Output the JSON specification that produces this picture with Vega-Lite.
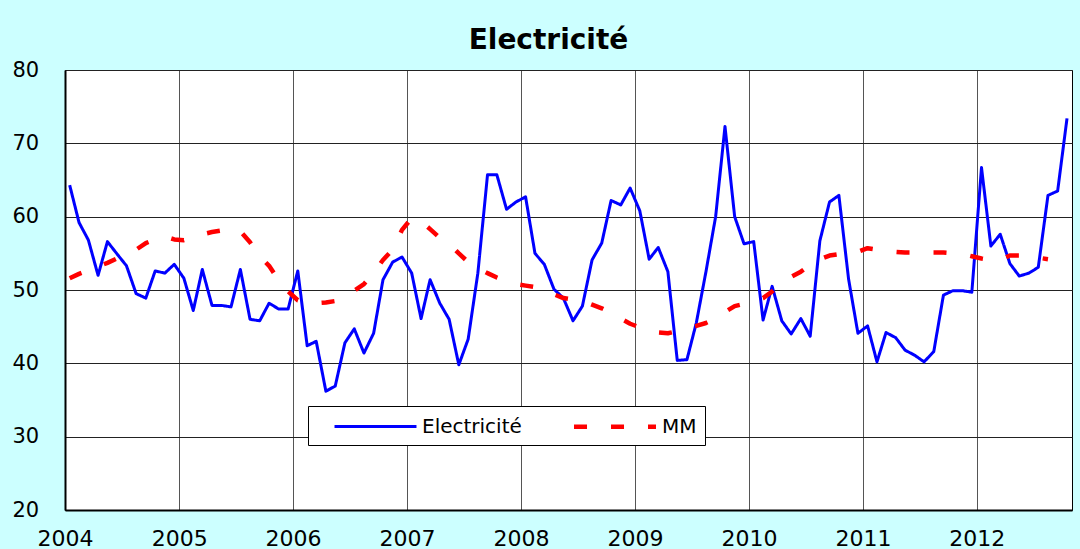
{
  "$schema": "https://vega.github.io/schema/vega-lite/v6.json",
  "width": 1007,
  "height": 440,
  "autosize": {"type": "none"},
  "padding": {"left": 65, "top": 70, "right": 8, "bottom": 39},
  "background": "#CCFFFF",
  "title": {"text": "Electricité", "font": "DejaVu Sans", "fontSize": 28, "fontWeight": "bold", "color": "#000000", "anchor": "middle", "frame": "group", "baseline": "alphabetic", "offset": -18, "dx": -20},
  "config": {
    "view": {"fill": "#FFFFFF", "stroke": "#000000", "strokeWidth": 1},
    "legend": {"fillColor": "#FFFFFF", "strokeColor": "#000000", "strokeWidth": 1, "padding": 8, "symbolType": "M-4,0H4", "symbolSize": 420, "symbolOffset": 47.5, "labelFont": "DejaVu Sans", "labelFontSize": 20, "labelColor": "#000000", "labelOffset": 34.5, "columnPadding": 33}
  },
  "data": {"values": [
    {"d": "2004-01-16", "Electricité": 64.3, "MM": 51.6},
    {"d": "2004-02-15", "Electricité": 59.2, "MM": 52.2},
    {"d": "2004-03-16", "Electricité": 56.8, "MM": 52.7},
    {"d": "2004-04-16", "Electricité": 52.0, "MM": 53.2},
    {"d": "2004-05-16", "Electricité": 56.6, "MM": 53.7},
    {"d": "2004-06-16", "Electricité": 54.9, "MM": 54.3},
    {"d": "2004-07-16", "Electricité": 53.3, "MM": 54.9},
    {"d": "2004-08-16", "Electricité": 49.5, "MM": 55.5},
    {"d": "2004-09-16", "Electricité": 48.9, "MM": 56.4},
    {"d": "2004-10-16", "Electricité": 52.6, "MM": 56.9},
    {"d": "2004-11-16", "Electricité": 52.3, "MM": 57.3},
    {"d": "2004-12-16", "Electricité": 53.5, "MM": 56.9},
    {"d": "2005-01-16", "Electricité": 51.6, "MM": 56.8},
    {"d": "2005-02-15", "Electricité": 47.2, "MM": 57.2},
    {"d": "2005-03-16", "Electricité": 52.8, "MM": 57.6},
    {"d": "2005-04-16", "Electricité": 47.9, "MM": 57.9},
    {"d": "2005-05-16", "Electricité": 47.9, "MM": 58.1},
    {"d": "2005-06-16", "Electricité": 47.7, "MM": 58.2},
    {"d": "2005-07-16", "Electricité": 52.8, "MM": 58.0},
    {"d": "2005-08-16", "Electricité": 46.0, "MM": 56.5},
    {"d": "2005-09-16", "Electricité": 45.8, "MM": 54.6},
    {"d": "2005-10-16", "Electricité": 48.2, "MM": 53.3},
    {"d": "2005-11-16", "Electricité": 47.4, "MM": 51.3},
    {"d": "2005-12-16", "Electricité": 47.4, "MM": 49.8},
    {"d": "2006-01-16", "Electricité": 52.6, "MM": 48.6},
    {"d": "2006-02-15", "Electricité": 42.4, "MM": 48.2},
    {"d": "2006-03-16", "Electricité": 43.0, "MM": 48.2},
    {"d": "2006-04-16", "Electricité": 36.2, "MM": 48.3},
    {"d": "2006-05-16", "Electricité": 36.9, "MM": 48.5},
    {"d": "2006-06-16", "Electricité": 42.8, "MM": 49.0},
    {"d": "2006-07-16", "Electricité": 44.7, "MM": 49.9},
    {"d": "2006-08-16", "Electricité": 41.4, "MM": 50.8},
    {"d": "2006-09-16", "Electricité": 44.1, "MM": 52.3},
    {"d": "2006-10-16", "Electricité": 51.4, "MM": 54.1},
    {"d": "2006-11-16", "Electricité": 53.8, "MM": 55.5},
    {"d": "2006-12-16", "Electricité": 54.5, "MM": 58.2},
    {"d": "2007-01-16", "Electricité": 52.3, "MM": 59.8},
    {"d": "2007-02-15", "Electricité": 46.1, "MM": 59.4},
    {"d": "2007-03-16", "Electricité": 51.4, "MM": 58.3},
    {"d": "2007-04-16", "Electricité": 48.2, "MM": 57.1},
    {"d": "2007-05-16", "Electricité": 46.0, "MM": 56.3},
    {"d": "2007-06-16", "Electricité": 39.8, "MM": 55.0},
    {"d": "2007-07-16", "Electricité": 43.3, "MM": 53.8},
    {"d": "2007-08-16", "Electricité": 52.3, "MM": 53.0},
    {"d": "2007-09-16", "Electricité": 65.7, "MM": 52.3},
    {"d": "2007-10-16", "Electricité": 65.7, "MM": 51.7},
    {"d": "2007-11-16", "Electricité": 61.0, "MM": 51.2},
    {"d": "2007-12-16", "Electricité": 62.0, "MM": 50.8},
    {"d": "2008-01-16", "Electricité": 62.7, "MM": 50.6},
    {"d": "2008-02-15", "Electricité": 55.0, "MM": 50.4},
    {"d": "2008-03-16", "Electricité": 53.5, "MM": 50.0},
    {"d": "2008-04-16", "Electricité": 50.1, "MM": 49.4},
    {"d": "2008-05-16", "Electricité": 48.9, "MM": 48.9},
    {"d": "2008-06-16", "Electricité": 45.8, "MM": 48.7},
    {"d": "2008-07-16", "Electricité": 47.8, "MM": 48.5},
    {"d": "2008-08-16", "Electricité": 54.1, "MM": 48.0},
    {"d": "2008-09-16", "Electricité": 56.4, "MM": 47.5},
    {"d": "2008-10-16", "Electricité": 62.2, "MM": 46.9},
    {"d": "2008-11-16", "Electricité": 61.6, "MM": 46.1},
    {"d": "2008-12-16", "Electricité": 63.9, "MM": 45.4},
    {"d": "2009-01-16", "Electricité": 60.8, "MM": 44.9},
    {"d": "2009-02-15", "Electricité": 54.2, "MM": 44.4},
    {"d": "2009-03-16", "Electricité": 55.8, "MM": 44.2},
    {"d": "2009-04-16", "Electricité": 52.5, "MM": 44.1},
    {"d": "2009-05-16", "Electricité": 40.4, "MM": 44.4},
    {"d": "2009-06-16", "Electricité": 40.5, "MM": 44.8},
    {"d": "2009-07-16", "Electricité": 45.5, "MM": 45.1},
    {"d": "2009-08-16", "Electricité": 52.5, "MM": 45.5},
    {"d": "2009-09-16", "Electricité": 60.0, "MM": 46.1},
    {"d": "2009-10-16", "Electricité": 72.3, "MM": 47.0},
    {"d": "2009-11-16", "Electricité": 60.0, "MM": 47.8},
    {"d": "2009-12-16", "Electricité": 56.3, "MM": 48.1},
    {"d": "2010-01-16", "Electricité": 56.6, "MM": 48.5},
    {"d": "2010-02-15", "Electricité": 45.9, "MM": 48.9},
    {"d": "2010-03-16", "Electricité": 50.5, "MM": 49.8},
    {"d": "2010-04-16", "Electricité": 45.8, "MM": 51.1},
    {"d": "2010-05-16", "Electricité": 44.0, "MM": 51.8},
    {"d": "2010-06-16", "Electricité": 46.1, "MM": 52.5},
    {"d": "2010-07-16", "Electricité": 43.7, "MM": 53.4},
    {"d": "2010-08-16", "Electricité": 56.7, "MM": 54.2},
    {"d": "2010-09-16", "Electricité": 62.0, "MM": 54.7},
    {"d": "2010-10-16", "Electricité": 62.9, "MM": 54.9},
    {"d": "2010-11-16", "Electricité": 51.5, "MM": 55.0},
    {"d": "2010-12-16", "Electricité": 44.1, "MM": 55.2},
    {"d": "2011-01-16", "Electricité": 45.1, "MM": 55.7},
    {"d": "2011-02-15", "Electricité": 40.2, "MM": 55.5},
    {"d": "2011-03-16", "Electricité": 44.2, "MM": 55.3},
    {"d": "2011-04-16", "Electricité": 43.5, "MM": 55.2},
    {"d": "2011-05-16", "Electricité": 41.8, "MM": 55.1},
    {"d": "2011-06-16", "Electricité": 41.1, "MM": 55.1},
    {"d": "2011-07-16", "Electricité": 40.2, "MM": 55.1},
    {"d": "2011-08-16", "Electricité": 41.6, "MM": 55.1},
    {"d": "2011-09-16", "Electricité": 49.3, "MM": 55.1},
    {"d": "2011-10-16", "Electricité": 49.9, "MM": 55.0},
    {"d": "2011-11-16", "Electricité": 49.9, "MM": 54.9},
    {"d": "2011-12-16", "Electricité": 49.7, "MM": 54.6},
    {"d": "2012-01-16", "Electricité": 66.7, "MM": 54.3},
    {"d": "2012-02-15", "Electricité": 56.0, "MM": 54.1},
    {"d": "2012-03-16", "Electricité": 57.6, "MM": 54.1},
    {"d": "2012-04-16", "Electricité": 53.6, "MM": 54.7},
    {"d": "2012-05-16", "Electricité": 51.9, "MM": 54.7},
    {"d": "2012-06-16", "Electricité": 52.3, "MM": 54.6},
    {"d": "2012-07-16", "Electricité": 53.1, "MM": 54.4},
    {"d": "2012-08-16", "Electricité": 62.9, "MM": 54.2},
    {"d": "2012-09-16", "Electricité": 63.5},
    {"d": "2012-10-16", "Electricité": 73.4}
  ]},
  "transform": [{"fold": ["Electricité", "MM"], "as": ["serie", "v"]}],
  "mark": {"type": "line", "strokeCap": "butt", "strokeJoin": "round"},
  "encoding": {
    "x": {
      "field": "d", "type": "temporal",
      "scale": {"domain": [{"year": 2004, "month": 1, "date": 1}, {"year": 2012, "month": 11, "date": 1}]},
      "axis": {"tickCount": {"interval": "year", "step": 1}, "format": "%Y", "title": null, "grid": true, "gridColor": "#555555", "gridWidth": 1, "labelFont": "DejaVu Sans", "labelFontSize": 22, "labelColor": "#000000", "labelPadding": 18, "labelFlush": false, "labelBaseline": "top", "labelOverlap": false, "ticks": false, "tickSize": 0, "domainColor": "#000000", "domainWidth": 2}
    },
    "y": {
      "field": "v", "type": "quantitative",
      "scale": {"domain": [20, 80], "nice": false, "zero": false},
      "axis": {"values": [20, 30, 40, 50, 60, 70, 80], "title": null, "grid": true, "gridColor": "#222222", "gridWidth": 1, "labelFont": "DejaVu Sans", "labelFontSize": 21, "labelColor": "#000000", "labelAlign": "left", "labelPadding": 53, "labelBaseline": "middle", "ticks": false, "tickSize": 0, "domainColor": "#000000", "domainWidth": 2}
    },
    "color": {
      "field": "serie", "type": "nominal",
      "scale": {"domain": ["Electricité", "MM"], "range": ["#0000FF", "#FF0000"]},
      "legend": {"title": null, "orient": "none", "legendX": 243, "legendY": 336, "direction": "horizontal"}
    },
    "strokeDash": {
      "field": "serie", "type": "nominal",
      "scale": {"domain": ["Electricité", "MM"], "range": [[1, 0], [13, 24]]},
      "legend": {"title": null, "orient": "none", "legendX": 243, "legendY": 336, "direction": "horizontal"}
    },
    "strokeWidth": {
      "field": "serie", "type": "nominal",
      "scale": {"domain": ["Electricité", "MM"], "range": [3, 4.5]},
      "legend": {"title": null, "orient": "none", "legendX": 243, "legendY": 336, "direction": "horizontal"}
    }
  }
}
